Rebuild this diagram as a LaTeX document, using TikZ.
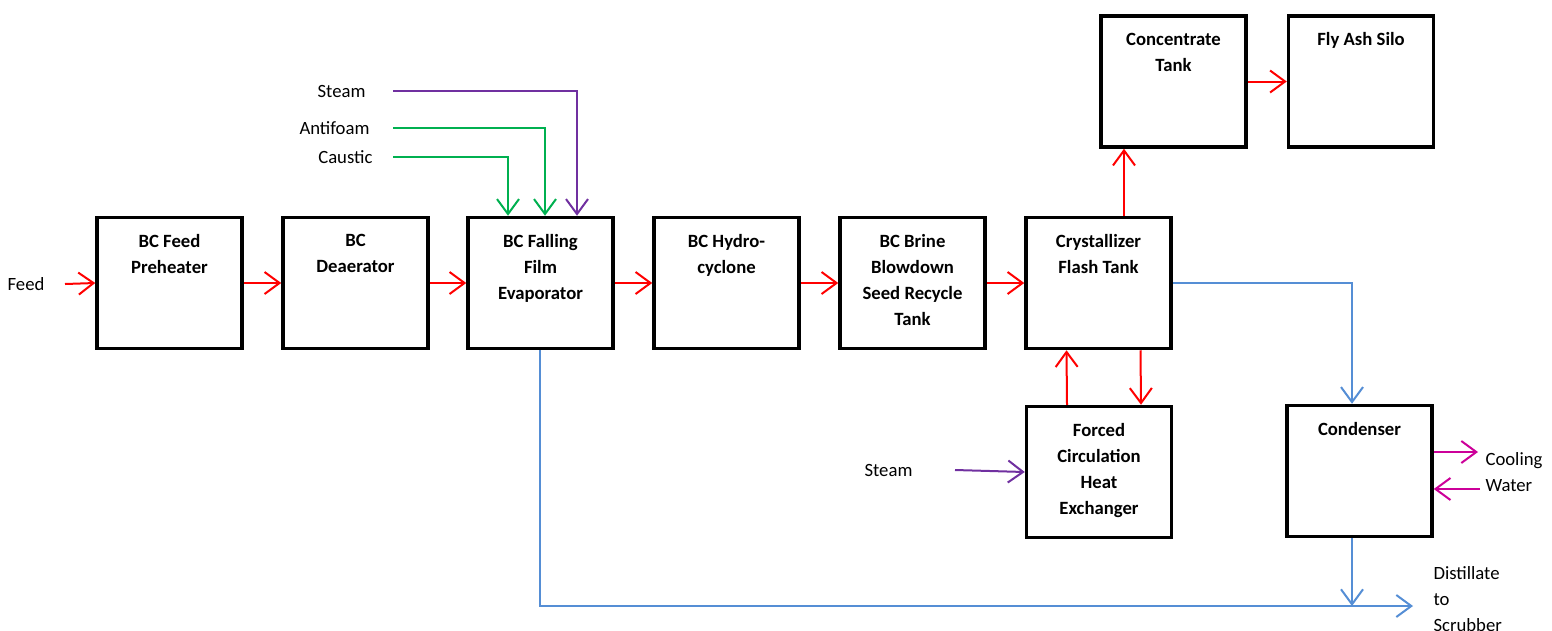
\documentclass[tikz,border=0pt]{standalone}
\usepackage{fontspec}
\setmainfont{Carlito}
\usepackage{tikz}
\usetikzlibrary{arrows.meta, positioning}
\definecolor{flowred}{RGB}{255,0,0}
\definecolor{steampurple}{RGB}{112,48,160}
\definecolor{chemgreen}{RGB}{0,176,80}
\definecolor{waterblue}{RGB}{85,142,213}
\definecolor{coolmagenta}{RGB}{204,0,153}
\tikzset{
	unit/.style={rectangle, draw, line width=3.5pt, minimum width=145pt, minimum height=131pt, inner sep=0pt},
	unit text/.style={font=\bfseries\fontsize{18.7}{26}\selectfont, align=center, anchor=north, yshift=-15pt},
	stream/.style={font=\fontsize{18.7}{26}\selectfont},
	flow/.style={-{Straight Barb[length=15pt, width=22pt]}, line width=2pt, color=flowred},
	steam/.style={-{Straight Barb[length=15pt, width=22pt]}, line width=2pt, color=steampurple},
	chem/.style={-{Straight Barb[length=15pt, width=22pt]}, line width=2pt, color=chemgreen},
	water/.style={-{Straight Barb[length=15pt, width=22pt]}, line width=2pt, color=waterblue},
	cooling/.style={-{Straight Barb[length=15pt, width=22pt]}, line width=2pt, color=coolmagenta}
}

\begin{document}
\begin{tikzpicture}[x=1pt, y=-1pt]
		\useasboundingbox (0,0) rectangle (1552,630);
		
		% Process units
		\node[unit, label={[unit text]north:BC Feed\\Preheater}] (pre) at (169.5,283) {};
		\node[unit, label={[unit text]north:BC\\Deaerator}] (dea) at (355.5,283) {};
		\node[unit, label={[unit text]north:BC Falling\\Film\\Evaporator}] (ffe) at (540.5,283) {};
		\node[unit, label={[unit text]north:BC Hydro-\\cyclone}] (hyd) at (726.5,283) {};
		\node[unit, label={[unit text]north:BC Brine\\Blowdown\\Seed Recycle\\Tank}] (bbt) at (912.5,283) {};
		\node[unit, label={[unit text]north:Crystallizer\\Flash Tank}] (cft) at (1098.5,283) {};
		\node[unit, label={[unit text]north:Concentrate\\Tank}] (con) at (1173.5,81.5) {};
		\node[unit, label={[unit text]north:Fly Ash Silo}] (fas) at (1361,81.5) {};
		\node[unit, label={[unit text]north:Forced\\Circulation\\Heat\\Exchanger}] (fhx) at (1099,472) {};
		\node[unit, label={[unit text]north:Condenser}] (cnd) at (1359.5,471) {};
		
		% Stream labels
		\node[stream] (feed) at (26,284) {Feed};
		\node[stream, anchor=east] (stm) at (369,91) {Steam};
		\node[stream, anchor=east] (afm) at (373,128) {Antifoam};
		\node[stream, anchor=east] (cau) at (376,157) {Caustic};
		\node[stream] (stm2) at (888.5,470) {Steam};
		\node[stream, align=left, anchor=north west] (cw) at (1482,449) {Cooling\\Water};
		\node[stream, align=left, anchor=north west] (dist) at (1430,563) {Distillate\\to\\Scrubber};
		
		% Free ends
		\coordinate (feedin) at (65,284);
		\coordinate (stmin) at (393,91);
		\coordinate (afmin) at (393,128);
		\coordinate (cauin) at (393,157);
		\coordinate (stm2in) at (955,470);
		\coordinate (cwout) at (1478,452);
		\coordinate (cwin) at (1480,489);
		\coordinate (vapor) at (1352,283);
		\coordinate (header) at (540,606);
		\coordinate (scrub) at (1413,606);
		
		% Main line
		\draw[flow] (feedin) -- (pre.west);                 % Feed -> preheater
		\draw[flow] (pre.east) -- (dea.west);                % preheater -> deaerator
		\draw[flow] (dea.east) -- (ffe.west);                % deaerator -> evaporator
		\draw[flow] (ffe.east) -- (hyd.west);                % evaporator -> hydrocyclone
		\draw[flow] (hyd.east) -- (bbt.west);                % hydrocyclone -> blowdown tank
		\draw[flow] (bbt.east) -- (cft.west);                % blowdown tank -> flash tank
		\draw[flow] ([xshift=25.5pt]cft.north) -- ([xshift=-49.5pt]con.south); % flash tank -> concentrate
		\draw[flow] (con.east) -- (fas.west);                % concentrate -> silo
		
		% Recirculation loop
		\draw[flow] ([xshift=-32pt]fhx.north) -- ([xshift=-32pt]cft.south);
		\draw[flow] ([xshift=42pt]cft.south) -- ([xshift=42pt]fhx.north);
		
		% Additions to the evaporator
		\draw[steam] (stmin) -| ([xshift=36.5pt]ffe.north);  % Steam
		\draw[chem] (afmin) -| ([xshift=4.5pt]ffe.north);    % Antifoam
		\draw[chem] (cauin) -| ([xshift=-32.5pt]ffe.north);  % Caustic
		\draw[steam] (stm2in) -- (fhx.west);                 % Steam -> heat exchanger
		
		% Vapour and distillate
		\draw[water] (cft.east) -- (vapor) -- (vapor |- cnd.north);
		\draw[water] (cnd.south -| vapor) -- (vapor |- header);
		\draw[water] (ffe.south -| header) -- (header) -- (scrub);
		
		% Cooling water
		\draw[cooling] (cnd.east |- cwout) -- (cwout);
		\draw[cooling] (cwin) -- (cnd.east |- cwin);
		
	\end{tikzpicture}
\end{document}
